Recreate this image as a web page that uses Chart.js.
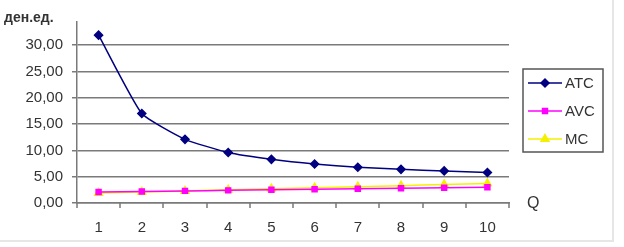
<!DOCTYPE html>
<html>
<head>
<meta charset="utf-8">
<script src="https://cdn.jsdelivr.net/npm/chart.js@4.4.1/dist/chart.umd.min.js"></script>
<style>
  html, body { margin: 0; padding: 0; background: #fff; }
  #wrap { width: 624px; height: 247px; position: relative; }
</style>
</head>
<body>
<div id="wrap"><canvas id="costs" width="624" height="247"></canvas></div>
<script>
(function () {
    'use strict';

    // DATA
    const quantities = ['1', '2', '3', '4', '5', '6', '7', '8', '9', '10'];
    const atcValues = [31.9, 17.0, 12.1, 9.6, 8.3, 7.4, 6.8, 6.4, 6.1, 5.8];
    const avcValues = [2.1, 2.2, 2.3, 2.4, 2.5, 2.6, 2.7, 2.8, 2.9, 3.0];
    const mcValues  = [1.9, 2.1, 2.3, 2.5, 2.7, 2.9, 3.1, 3.3, 3.5, 3.7];
    const yTitle = 'ден.ед.';
    const xTitle = 'Q';

    const FONT = '"Liberation Sans", Arial, sans-serif';
    const TEXT = '#333333';
    const GRID = '#7a7a7a';

    //TICK MARKS, LEGEND, AXIS TITLES, FRAME
    const extras = {
        id: 'extras',
        afterDraw: function (chart) {
            const ctx = chart.ctx;
            const xs = chart.scales.x;
            const bottom = chart.chartArea.bottom;
            ctx.save();

            // x tick marks between categories
            const step = xs.getPixelForValue(1) - xs.getPixelForValue(0);
            ctx.strokeStyle = GRID;
            ctx.lineWidth = 1.5;
            ctx.beginPath();
            for (let i = 0; i <= quantities.length; i++) {
                const x = Math.round(xs.getPixelForValue(0) - step / 2 + i * step);
                ctx.moveTo(x, bottom);
                ctx.lineTo(x, bottom + 5);
            }
            ctx.stroke();

            // light outer frame
            ctx.strokeStyle = '#e6e6e6';
            ctx.lineWidth = 2;
            ctx.beginPath();
            ctx.moveTo(0, 241);
            ctx.lineTo(613, 241);
            ctx.lineTo(613, 0);
            ctx.stroke();

            ctx.fillStyle = TEXT;
            ctx.font = 'bold 14px ' + FONT;
            ctx.textBaseline = 'middle';
            ctx.textAlign = 'left';
            ctx.fillText(yTitle, 4, 18);

            ctx.font = '16px ' + FONT;
            ctx.fillText(xTitle, 527, 204);

            // legend box
            ctx.strokeStyle = '#555555';
            ctx.lineWidth = 1.5;
            ctx.strokeRect(523, 69, 80, 83);

            const rows = [83, 111, 139];
            chart.data.datasets.forEach(function (ds, i) {
                const y = rows[i];
                ctx.strokeStyle = ds.borderColor;
                ctx.lineWidth = 1.5;
                ctx.beginPath();
                ctx.moveTo(528, y);
                ctx.lineTo(562, y);
                ctx.stroke();
                ctx.fillStyle = ds.pointBackgroundColor;
                ctx.strokeStyle = ds.pointBorderColor;
                Chart.helpers.drawPoint(ctx, {
                    pointStyle: ds.pointStyle,
                    radius: ds.pointRadius,
                    borderWidth: 1
                }, 545, y);
                ctx.fillStyle = TEXT;
                ctx.font = '15px ' + FONT;
                ctx.textAlign = 'left';
                ctx.fillText(ds.label, 565, y + 1);
            });

            ctx.restore();
        }
    };

    function series(label, values, color, style, radius) {
        return {
            label: label,
            data: values,
            borderColor: color,
            backgroundColor: color,
            pointBackgroundColor: color,
            pointBorderColor: color,
            borderWidth: 1.5,
            pointStyle: style,
            pointRadius: radius,
            pointHoverRadius: radius,
            tension: 0.15
        };
    }

    let costChart = new Chart(document.getElementById('costs'), {
        type: 'line',
        data: {
            labels: quantities,
            datasets: [
                series('ATC', atcValues, '#000080', 'rectRot', 4),
                series('AVC', avcValues, '#ff00ff', 'rect', 3.5),
                series('MC', mcValues, '#f5f000', 'triangle', 4.5)
            ]
        },
        options: {
            responsive: false,
            animation: false,
            layout: { padding: { top: 22, right: 115, left: 0, bottom: 0 } },
            plugins: {
                legend: { display: false },
                tooltip: { enabled: false }
            },
            scales: {
                x: {
                    offset: true,
                    grid: {
                        display: false,
                        drawTicks: false
                    },
                    border: { display: true, color: GRID, width: 1.5 },
                    ticks: { color: TEXT, font: { family: FONT, size: 15 }, padding: 16, maxRotation: 0 },
                    afterFit: function (scale) { scale.height = 44; }
                },
                y: {
                    min: 0,
                    max: 34.4,
                    grid: {
                        color: GRID,
                        lineWidth: 1.5,
                        tickLength: 5
                    },
                    border: { display: true, color: GRID, width: 1.5 },
                    ticks: {
                        stepSize: 5,
                        includeBounds: false,
                        color: TEXT,
                        font: { family: FONT, size: 15 },
                        padding: 9,
                        callback: function (v) { return v.toFixed(2).replace('.', ','); }
                    },
                    afterFit: function (scale) { scale.width = 77; }
                }
            }
        },
        plugins: [extras]
    });
})();
</script>
</body>
</html>
